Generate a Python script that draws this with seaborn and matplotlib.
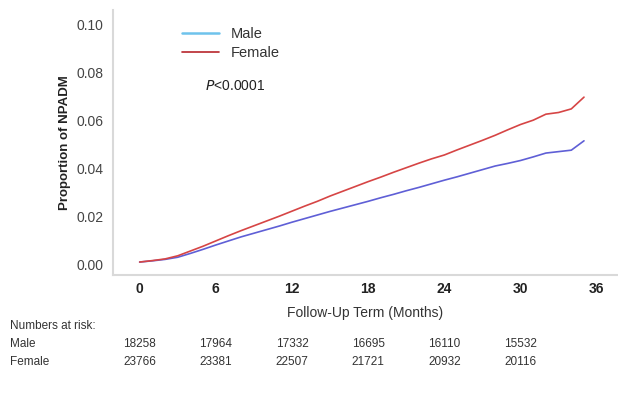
import numpy as np
import pandas as pd
import matplotlib
matplotlib.use("Agg")
import matplotlib.pyplot as plt
from matplotlib.lines import Line2D
import seaborn as sns

months = list(range(0, 36))
male = [0.0012, 0.0017, 0.0023, 0.0032, 0.0048, 0.0065, 0.0083, 0.0100, 0.0117, 0.0132,
        0.0147, 0.0162, 0.0178, 0.0193, 0.0208, 0.0223, 0.0237, 0.0251, 0.0265, 0.0280,
        0.0294, 0.0309, 0.0323, 0.0338, 0.0353, 0.0367, 0.0382, 0.0397, 0.0412, 0.0423,
        0.0435, 0.0450, 0.0466, 0.0472, 0.0478, 0.0517]
female = [0.0012, 0.0018, 0.0025, 0.0038, 0.0058, 0.0078, 0.0100, 0.0122, 0.0143, 0.0163,
          0.0183, 0.0203, 0.0224, 0.0245, 0.0265, 0.0287, 0.0307, 0.0327, 0.0347, 0.0366,
          0.0386, 0.0405, 0.0424, 0.0442, 0.0458, 0.0479, 0.0499, 0.0519, 0.0540, 0.0563,
          0.0585, 0.0603, 0.0628, 0.0635, 0.0650, 0.0699]
groups = ["Male", "Female"]
x_ticks = [0, 6, 12, 18, 24, 30, 36]
y_ticks = [0.00, 0.02, 0.04, 0.06, 0.08, 0.10]
risk_male = ["18258", "17964", "17332", "16695", "16110", "15532"]
risk_female = ["23766", "23381", "22507", "21721", "20932", "20116"]

df = pd.DataFrame({
    "month": months * 2,
    "value": male + female,
    "group": ["Male"] * len(months) + ["Female"] * len(months),
})

sns.set_theme(style="white")
plt.rcParams["font.family"] = ["Liberation Sans", "DejaVu Sans"]

fig = plt.figure(figsize=(6.18, 4.13), dpi=100)
ax = fig.add_axes([113 / 618, 1 - 275 / 413, (617 - 113) / 618, (275 - 10) / 413])

line_colors = {"Male": "#5f5fd6", "Female": "#d64545"}
sns.lineplot(data=df, x="month", y="value", hue="group", palette=line_colors,
             linewidth=1.2, ax=ax, legend=False)

ax.set_xlim(-2.1, 37.6)
ax.set_ylim(-0.0042, 0.1062)
ax.set_xticks(x_ticks)
ax.set_xticklabels([str(t) for t in x_ticks], fontweight="bold", fontsize=10, color="#222222")
ax.set_yticks(y_ticks)
ax.set_yticklabels([f"{t:.2f}" for t in y_ticks], fontsize=10, color="#444444")
ax.tick_params(axis="y", length=0, pad=7)
ax.tick_params(axis="x", length=0, pad=5)
for s in ["top", "right"]:
    ax.spines[s].set_visible(False)
for s in ["left", "bottom"]:
    ax.spines[s].set_color("#d9d9d9")
    ax.spines[s].set_linewidth(1.5)
ax.set_xlabel("")
ax.set_ylabel("Proportion of NPADM", fontweight="bold", fontsize=9.5, color="#222222", labelpad=4)

handles = [Line2D([0], [0], color="#6ec3ec", lw=1.8),
           Line2D([0], [0], color="#b8262c", lw=1.2)]
leg = ax.legend(handles, groups, loc="upper left", bbox_to_anchor=(0.11, 0.985),
                frameon=False, fontsize=10.5, handlelength=2.6, handletextpad=0.8,
                labelspacing=0.35)
for t in leg.get_texts():
    t.set_color("#333333")

fig.text(205 / 618, 1 - 86 / 413, r"$\mathit{P}$<0.0001", fontsize=10, color="#222222",
         va="center", ha="left")

fig.text(365 / 618, 1 - 313 / 413, "Follow-Up Term (Months)", fontsize=10,
         color="#333333", ha="center", va="center")
fig.text(10 / 618, 1 - 326 / 413, "Numbers at risk:", fontsize=8.5, color="#333333",
         ha="left", va="center")
fig.text(10 / 618, 1 - 344 / 413, "Male", fontsize=8.5, color="#333333", ha="left", va="center")
fig.text(10 / 618, 1 - 362 / 413, "Female", fontsize=8.5, color="#333333", ha="left", va="center")

for i, (m, f) in enumerate(zip(risk_male, risk_female)):
    xd = x_ticks[i]
    xf = fig.transFigure.inverted().transform(ax.transData.transform((xd, 0)))[0]
    fig.text(xf, 1 - 344 / 413, m, fontsize=8.5, color="#333333", ha="center", va="center")
    fig.text(xf, 1 - 362 / 413, f, fontsize=8.5, color="#333333", ha="center", va="center")

fig.savefig("out.png", dpi=100)
